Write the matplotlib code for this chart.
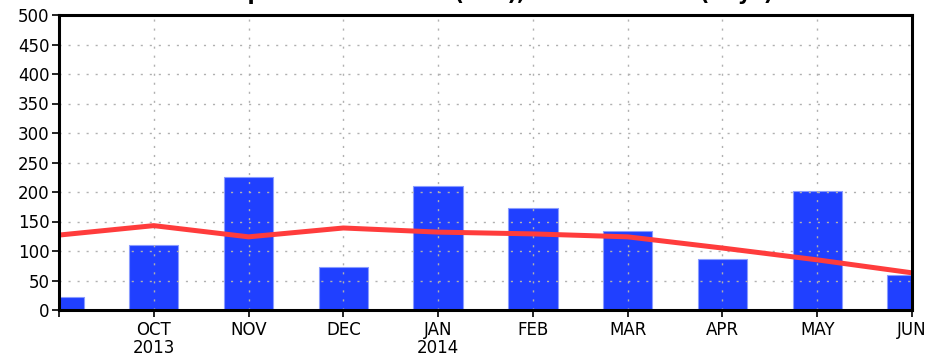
import matplotlib
matplotlib.use("Agg")
import matplotlib.pyplot as plt
import numpy as np

months = ["SEP", "OCT", "NOV", "DEC", "JAN", "FEB", "MAR", "APR", "MAY", "JUN"]
tick_labels = ["", "OCT\n2013", "NOV", "DEC", "JAN\n2014", "FEB", "MAR", "APR", "MAY", "JUN"]
monthly_total = [22, 110, 226, 73, 211, 173, 134, 86, 201, 60]
normal_line = [127, 143, 124, 139, 132, 129, 124, 105, 85, 63]
title_text = "Temperature Rainfall (mm), Mean Rainfall (days)"

fig = plt.figure(figsize=(9.3, 3.6), dpi=100)
ax = fig.add_axes([59/930, 1-310/360, (912-59)/930, (310-15)/360])

x = np.arange(len(months))
ax.bar(x, monthly_total, width=0.52, color="#2040ff", edgecolor="#8a9cff",
       linewidth=0.8, zorder=1)
ax.plot(x, normal_line, color="#ff3c3c", linewidth=3.6, zorder=4,
        solid_capstyle="butt")

ax.set_xlim(0, len(months) - 1)
ax.set_ylim(0, 500)
ax.set_yticks(np.arange(0, 501, 50))
ax.set_xticks(x)
ax.set_xticklabels(tick_labels)
ax.grid(True, color="#b0b0b0", linestyle=(0, (1.5, 5)), linewidth=1.0, zorder=2)
ax.set_axisbelow(False)
for line in ax.get_xgridlines() + ax.get_ygridlines():
    line.set_zorder(2)

for s in ax.spines.values():
    s.set_linewidth(2.2)
    s.set_color("black")
    s.set_zorder(5)

ax.tick_params(axis="both", direction="out", length=5, width=1.2,
               labelsize=12, colors="black", pad=2)
ax.tick_params(axis="x", pad=3)
for lbl in ax.get_xticklabels() + ax.get_yticklabels():
    lbl.set_fontfamily("DejaVu Sans")
    lbl.set_linespacing(1.0)

fig.text(0.5 + 22/930, 1.0, title_text, ha="center", va="baseline",
         fontsize=15, fontweight="bold", color="black")

fig.savefig("out.png", dpi=100)
